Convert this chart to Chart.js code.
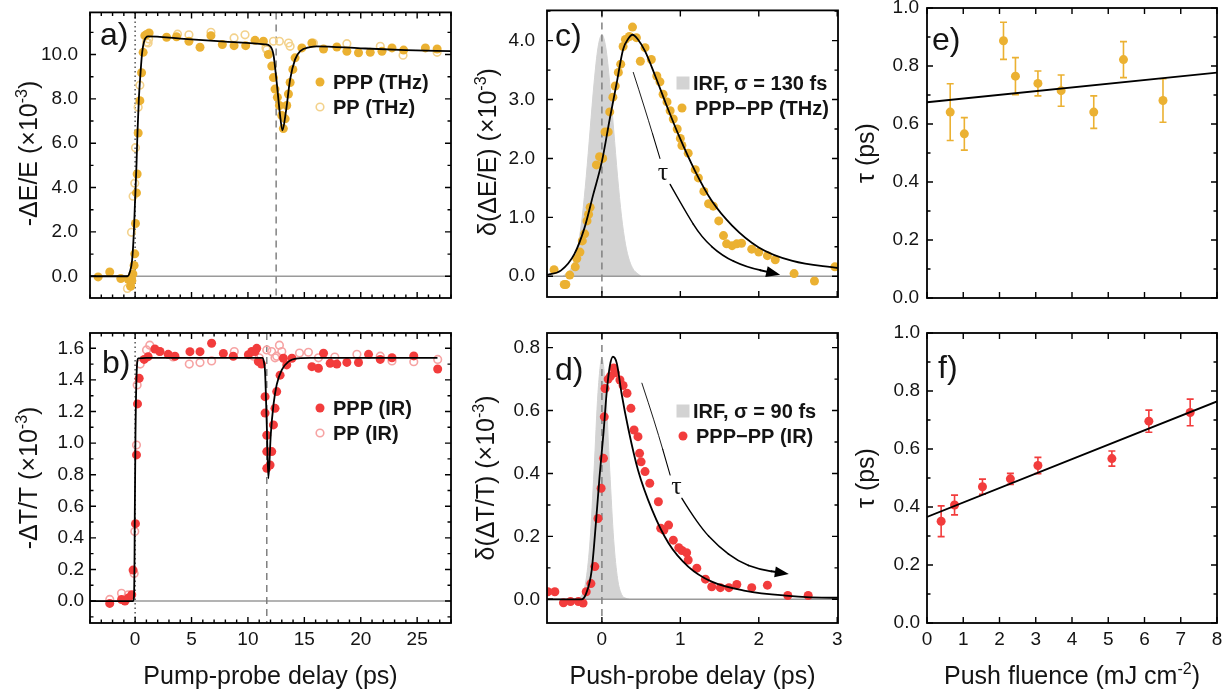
<!DOCTYPE html>
<html>
<head>
<meta charset="utf-8">
<script src="https://cdn.jsdelivr.net/npm/chart.js@4.4.0/dist/chart.umd.min.js"></script>
<style>
  body { margin: 0; background: #fff; width: 1228px; height: 696px; overflow: hidden; position: relative; }
  canvas { position: absolute; }
</style>
</head>
<body>
<canvas id="cA"></canvas>
<canvas id="cB"></canvas>
<canvas id="cC"></canvas>
<canvas id="cD"></canvas>
<canvas id="cE"></canvas>
<canvas id="cF"></canvas>
<script>
// ---- Data ----

// a) THz, pump-probe delay (ps) vs -dE/E (x1e-3)
const aFit = [[-4,0],[-0.68,0],[-0.47,0.19],[-0.27,0.71],[-0.12,1.9],[-0.03,3.09],[0.12,5.02],[0.21,6.51],
  [0.33,8.0],[0.48,9.18],[0.62,10.08],[0.8,10.6],[1.15,10.82],[4,10.72],[8,10.58],[11.5,10.46],[11.96,10.38],
  [12.26,10.0],[12.55,8.74],[12.85,7.25],[13.06,6.58],[13.36,7.4],[13.74,8.88],[14.18,9.78],[14.63,10.15],
  [15.5,10.33],[16.1,10.37],[20,10.28],[24,10.2],[28,10.15]];
const aPpp = [[-3.28,-0.03],[-2.25,0.19],[-1.27,-0.1],[-0.6,-0.15],[-0.4,-0.45],[-0.3,-0.2],[-0.2,0.1],
  [-0.09,0.49],[-0.03,1.01],[0.03,2.38],[0.12,3.76],[0.18,4.61],[0.27,6.46],[0.42,7.92],[0.57,9.18],[0.71,10.1],
  [0.86,10.85],[1.0,10.9],[1.24,10.97],[2.79,10.78],[3.67,10.8],[4.77,10.6],[5.75,10.33],[6.72,10.85],[7.73,10.45],
  [8.77,10.4],[9.8,10.4],[10.63,10.64],[11.37,10.6],[11.81,10.0],[12.11,9.48],[12.26,8.96],[12.4,8.44],[12.61,8.07],
  [12.79,7.7],[13.0,7.25],[13.14,6.66],[13.3,7.1],[13.44,7.7],[13.59,8.22],[13.74,8.74],[13.98,9.33],[14.18,9.85],
  [14.78,10.3],[15.67,10.52],[16.7,10.25],[17.88,10.34],[18.77,10.15],[19.8,10.08],[20.84,10.1],[21.88,10.15],
  [22.77,10.3],[23.8,10.2],[25.73,10.3],[26.77,10.25]];
const aPp = [[-0.68,-0.55],[-0.3,-0.2],[-0.32,1.98],[-0.18,3.61],[-0.03,4.2],[0.03,5.8],[0.27,7.62],[0.42,8.62],
  [1.01,10.55],[1.15,10.52],[1.2,10.7],[3.76,10.92],[4.77,10.89],[6.72,11.0],[8.77,10.75],[9.74,10.89],[11.6,10.3],
  [11.67,10.22],[12.26,10.6],[12.79,10.6],[13.6,10.52],[13.74,10.37],[15.8,10.52],[18.77,10.49],[21.73,10.37],
  [23.75,9.97],[26.77,10.1]];
const aPushDelay = 12.5;

// b) IR, pump-probe delay (ps) vs -dT/T (x1e-3)
const bFit = [[-4,0],[-0.18,0],[-0.1,0.03],[-0.05,0.3],[-0.03,0.545],[0.03,1.05],[0.12,1.41],[0.27,1.537],
  [1,1.54],[11.3,1.54],[11.45,1.5],[11.52,1.45],[11.67,1.115],[11.81,0.777],[12.02,1.05],[12.26,1.24],[12.55,1.37],
  [13.0,1.463],[13.59,1.516],[14.48,1.537],[15.5,1.54],[26.8,1.54]];
const bPpp = [[-2.25,-0.015],[-1.2,0.01],[-0.9,0.0],[-0.6,0.02],[-0.3,0.04],[-0.18,0.196],[0.03,0.49],[0.12,0.925],
  [0.21,1.248],[0.36,1.41],[0.8,1.53],[1.15,1.547],[1.75,1.596],[2.19,1.58],[2.93,1.562],[3.53,1.55],[4.86,1.579],
  [5.75,1.579],[6.78,1.632],[7.82,1.568],[8.7,1.55],[10.04,1.56],[10.34,1.58],[10.63,1.58],[10.78,1.6],[10.92,1.516],
  [11.2,1.5],[11.52,1.294],[11.52,1.19],[11.67,1.05],[11.67,0.946],[11.67,0.84],[11.96,0.861],[12.11,0.946],
  [12.26,1.115],[12.4,1.22],[12.55,1.326],[12.85,1.43],[13.14,1.537],[13.44,1.495],[13.9,1.537],[15.67,1.484],
  [16.25,1.474],[16.7,1.569],[17.29,1.505],[17.88,1.5],[18.77,1.511],[19.8,1.51],[20.69,1.562],[21.73,1.53],
  [22.77,1.54],[24.7,1.552],[26.82,1.469]];
const bPp = [[-2.25,0.01],[-1.21,0.049],[-0.6,0.04],[-0.09,0.175],[-0.03,0.44],[0.12,0.988],[0.18,1.368],[0.45,1.5],
  [1.01,1.59],[1.3,1.62],[2.2,1.58],[3.37,1.545],[4.8,1.5],[5.75,1.51],[6.78,1.52],[8.79,1.58],[10.5,1.55],[11.0,1.54],
  [11.67,1.59],[12.1,1.58],[12.4,1.54],[12.55,1.55],[12.79,1.62],[13.0,1.58],[14.57,1.57],[15.36,1.575],[16.25,1.54],
  [17.7,1.545],[19.66,1.562],[21.73,1.55],[22.77,1.52],[24.7,1.515],[26.82,1.53]];
const bPushDelay = 11.67;

// c) THz, push-probe delay (ps) vs d(dE/E) (x1e-3)
const cIrf = [[-0.5,0],[-0.45,0.05],[-0.4,0.12],[-0.35,0.27],[-0.3,0.55],[-0.25,1.02],[-0.2,1.69],[-0.15,2.49],
  [-0.1,3.28],[-0.05,3.88],[0,4.1],[0.05,3.88],[0.1,3.28],[0.15,2.49],[0.2,1.69],[0.25,1.02],[0.3,0.55],[0.35,0.27],
  [0.4,0.12],[0.45,0.05],[0.5,0]];
const cFit = [[-0.7,0.02],[-0.52,0.1],[-0.35,0.38],[-0.22,0.83],[-0.11,1.39],[0,1.95],[0.1,2.67],[0.19,3.29],
  [0.27,3.85],[0.34,4.04],[0.39,4.1],[0.46,4.02],[0.55,3.82],[0.68,3.4],[0.81,2.95],[0.98,2.39],[1.19,1.78],
  [1.4,1.28],[1.66,0.86],[2.0,0.49],[2.43,0.26],[3.01,0.14]];
const cDiff = [[-0.61,0.11],[-0.48,-0.14],[-0.46,-0.14],[-0.41,0.02],[-0.34,0.16],[-0.32,0.3],[-0.28,0.41],
  [-0.25,0.6],[-0.22,0.72],[-0.19,0.94],[-0.17,1.05],[-0.15,1.17],[-0.07,1.89],[-0.03,2.03],[0.01,2.0],[0.04,2.45],
  [0.08,2.45],[0.1,2.79],[0.14,3.04],[0.17,3.23],[0.21,3.46],[0.24,3.6],[0.27,3.9],[0.3,4.02],[0.35,4.07],[0.39,4.23],
  [0.44,4.05],[0.49,3.65],[0.55,3.88],[0.63,3.68],[0.7,3.4],[0.74,3.3],[0.78,3.09],[0.83,2.96],[0.87,2.81],
  [0.91,2.67],[0.96,2.5],[1.0,2.34],[1.02,2.22],[1.1,2.09],[1.19,1.81],[1.23,1.67],[1.3,1.44],[1.36,1.23],
  [1.42,1.19],[1.49,0.94],[1.55,0.69],[1.59,0.55],[1.66,0.52],[1.72,0.55],[1.78,0.56],[1.91,0.46],[2.0,0.41],
  [2.11,0.35],[2.21,0.28],[2.45,0.045],[2.71,-0.08],[2.97,0.16]];
const cArrowA = [[0.4,3.46],[0.55,2.84],[0.74,2.0]];
const cArrowB = [[0.87,1.56],[1.06,1.11],[1.27,0.66],[1.53,0.35],[1.83,0.16],[2.21,0.045]];

// d) IR, push-probe delay (ps) vs d(dT/T) (x1e-3)
const dIrf = [[-0.35,0],[-0.3,0.004],[-0.25,0.016],[-0.2,0.065],[-0.15,0.19],[-0.1,0.41],[-0.05,0.657],[0,0.766],
  [0.05,0.657],[0.1,0.41],[0.15,0.19],[0.2,0.065],[0.25,0.016],[0.3,0.004],[0.35,0]];
const dFit = [[-0.7,0],[-0.26,0],[-0.2,0.019],[-0.13,0.093],[-0.07,0.263],[-0.03,0.39],[0.02,0.528],[0.06,0.655],
  [0.1,0.74],[0.14,0.771],[0.19,0.75],[0.25,0.655],[0.34,0.538],[0.46,0.411],[0.64,0.284],[0.85,0.178],[1.1,0.104],
  [1.4,0.056],[1.83,0.027],[2.34,0.012],[2.94,0.005],[3.01,0.005]];
const dDiff = [[-0.69,0.024],[-0.6,0.024],[-0.49,-0.011],[-0.4,-0.007],[-0.3,-0.007],[-0.24,-0.012],[-0.2,0.024],
  [-0.14,0.05],[-0.09,0.104],[-0.05,0.257],[-0.01,0.353],[0.02,0.448],[0.03,0.58],[0.04,0.67],[0.08,0.7],[0.11,0.71],
  [0.15,0.735],[0.17,0.72],[0.23,0.697],[0.27,0.68],[0.32,0.655],[0.37,0.607],[0.41,0.538],[0.46,0.517],[0.48,0.464],
  [0.5,0.437],[0.55,0.406],[0.61,0.369],[0.72,0.31],[0.75,0.226],[0.79,0.22],[0.85,0.236],[0.91,0.188],[0.98,0.164],
  [1.02,0.155],[1.08,0.148],[1.1,0.125],[1.21,0.099],[1.32,0.064],[1.4,0.04],[1.51,0.037],[1.62,0.037],[1.72,0.047],
  [1.91,0.037],[2.11,0.045],[2.37,0.012],[2.63,0.012]];
const dArrowA = [[0.51,0.687],[0.68,0.559],[0.87,0.395]];
const dArrowB = [[1.02,0.321],[1.23,0.236],[1.49,0.167],[1.74,0.12],[2.0,0.095],[2.32,0.083]];

// e) THz lifetime vs push fluence
const eFluence = [0.64, 1.03, 2.11, 2.44, 3.06, 3.70, 4.60, 5.42, 6.51];
const eTau = [0.641, 0.566, 0.887, 0.765, 0.740, 0.715, 0.641, 0.822, 0.681];
const eErr = [0.098, 0.056, 0.064, 0.064, 0.043, 0.054, 0.056, 0.062, 0.075];
const eFit = [[0, 0.675], [8, 0.777]];

// f) IR lifetime vs push fluence
const fFluence = [0.39, 0.76, 1.53, 2.30, 3.06, 5.10, 6.12, 7.26];
const fTau = [0.351, 0.407, 0.470, 0.497, 0.543, 0.567, 0.696, 0.726];
const fErr = [0.053, 0.034, 0.026, 0.019, 0.028, 0.026, 0.038, 0.046];
const fFit = [[0, 0.366], [8, 0.764]];

// ---- Styling ----
const FONT = "'Liberation Sans', Arial, sans-serif";
const SERIF = "'Liberation Serif', 'Times New Roman', serif";
const TEXT = "#141414";
const GOLD = "#EBB132";
const GOLD_LIGHT = "#F3D28C";
const RED = "#F23C3C";
const RED_LIGHT = "#F6A3A3";
const IRF_GRAY = "#d3d3d3";
const TITLE_SIZE = 25;
const ML = 90, MT = 20, MR = 20, MB = 75; // canvas margins around plot area

// dataset helpers
const toPts = (arr) => arr.map(([x, y]) => ({ x, y }));
const zip = (xs, ys) => xs.map((x, i) => [x, ys[i]]);

function fitLine(data) {
  return { data: toPts(data), showLine: true, borderColor: "#000", borderWidth: 1.8,
    pointRadius: 0, cubicInterpolationMode: "monotone", fill: false };
}
function filledDots(data, color) {
  return { data: toPts(data), showLine: false, pointRadius: 4.5,
    pointBackgroundColor: color, pointBorderColor: color, pointBorderWidth: 0 };
}
function openDots(data, color) {
  return { data: toPts(data), showLine: false, pointRadius: 3.8,
    pointBackgroundColor: "rgba(0,0,0,0)", pointBorderColor: color, pointBorderWidth: 1.6 };
}
function irfArea(data) {
  return { data: toPts(data), showLine: true, borderColor: IRF_GRAY, borderWidth: 1,
    backgroundColor: IRF_GRAY, pointRadius: 0, fill: "origin", cubicInterpolationMode: "monotone" };
}

const supM3 = (head) => [{ t: head + " (×10" }, { t: "-3", sup: true }, { t: ")" }];

// ---- Panel definitions ----
const panels = [
  {
    id: "cA", box: { l: 90, t: 9, r: 451, b: 298 },
    x: { min: -4, max: 28, major: 5, minor: 1, labels: false },
    y: { min: -0.98, max: 11.9, major: 2, minor: 1, pad: 12 },
    datasets: [fitLine(aFit), filledDots(aPpp, GOLD), openDots(aPp, GOLD_LIGHT)],
    zeroLine: true, linesAfter: -1,
    vlines: [{ x: 0, style: "dot" }, { x: aPushDelay, style: "dash" }],
    tag: { text: "a)", x: 100, y: 45 },
    yTitle: { parts: supM3("-ΔE/E"), x: 28 },
    legend: [
      { kind: "dot", color: GOLD, text: "PPP (THz)", x: 320, y: 82 },
      { kind: "open", color: GOLD_LIGHT, text: "PP (THz)", x: 320, y: 107 },
    ],
  },
  {
    id: "cB", box: { l: 90, t: 333, r: 451, b: 623 },
    x: { min: -4, max: 28, major: 5, minor: 1, labels: true },
    y: { min: -0.139, max: 1.697, major: 0.2, minor: 0.1, pad: 6 },
    datasets: [fitLine(bFit), filledDots(bPpp, RED), openDots(bPp, RED_LIGHT)],
    zeroLine: true, linesAfter: -1,
    vlines: [{ x: 0, style: "dot" }, { x: bPushDelay, style: "dash" }],
    tag: { text: "b)", x: 102, y: 373 },
    yTitle: { parts: supM3("-ΔT/T"), x: 28 },
    xTitle: [{ t: "Pump-probe delay (ps)" }],
    legend: [
      { kind: "dot", color: RED, text: "PPP (IR)", x: 320, y: 408 },
      { kind: "open", color: RED_LIGHT, text: "PP (IR)", x: 320, y: 433 },
    ],
  },
  {
    id: "cC", box: { l: 547, t: 7, r: 838, b: 297 },
    x: { min: -0.7, max: 3.01, major: 1, labels: false },
    y: { min: -0.352, max: 4.513, major: 1, minor: 0.5, pad: 12 },
    datasets: [fitLine(cFit), filledDots(cDiff, GOLD), irfArea(cIrf)],
    zeroLine: true, linesAfter: 2,
    vlines: [{ x: 0, style: "dash" }],
    arrow: [cArrowA, cArrowB], tau: { x: 0.78, y: 1.75 },
    tag: { text: "c)", x: 555, y: 46 },
    yTitle: { parts: supM3("δ(ΔE/E)"), x: 487 },
    legend: [
      { kind: "square", color: IRF_GRAY, text: "IRF, σ = 130 fs", x: 683, y: 83 },
      { kind: "dot", color: GOLD, text: "PPP−PP (THz)", x: 682, y: 108 },
    ],
  },
  {
    id: "cD", box: { l: 547, t: 333, r: 838, b: 623 },
    x: { min: -0.7, max: 3.01, major: 1, labels: true },
    y: { min: -0.0753, max: 0.8465, major: 0.2, minor: 0.1, pad: 7 },
    datasets: [fitLine(dFit), filledDots(dDiff, RED), irfArea(dIrf)],
    zeroLine: true, linesAfter: 2,
    vlines: [{ x: 0, style: "dash" }],
    arrow: [dArrowA, dArrowB], tau: { x: 0.95, y: 0.358 },
    tag: { text: "d)", x: 555, y: 380 },
    yTitle: { parts: supM3("δ(ΔT/T)"), x: 485 },
    xTitle: [{ t: "Push-probe delay (ps)" }],
    legend: [
      { kind: "square", color: IRF_GRAY, text: "IRF, σ = 90 fs", x: 683, y: 411 },
      { kind: "dot", color: RED, text: "PPP−PP (IR)", x: 683, y: 436 },
    ],
  },
  {
    id: "cE", box: { l: 927, t: 8, r: 1217, b: 298 },
    x: { min: 0, max: 8, major: 1, labels: false },
    y: { min: 0, max: 1, major: 0.2, minor: 0.1, pad: 8 },
    datasets: [fitLine(eFit), filledDots(zip(eFluence, eTau), GOLD)],
    errors: { xs: eFluence, ys: eTau, err: eErr, color: GOLD },
    zeroLine: false, linesAfter: -1, vlines: [],
    tag: { text: "e)", x: 932, y: 50 },
    yTitle: { parts: [{ t: "τ (ps)" }], x: 865 },
    legend: [],
  },
  {
    id: "cF", box: { l: 927, t: 333, r: 1217, b: 623 },
    x: { min: 0, max: 8, major: 1, labels: true },
    y: { min: 0, max: 1, major: 0.2, minor: 0.1, pad: 7 },
    datasets: [fitLine(fFit), filledDots(zip(fFluence, fTau), RED)],
    errors: { xs: fFluence, ys: fTau, err: fErr, color: RED },
    zeroLine: false, linesAfter: -1, vlines: [],
    tag: { text: "f)", x: 938, y: 378 },
    yTitle: { parts: [{ t: "τ (ps)" }], x: 865 },
    xTitle: [{ t: "Push fluence (mJ cm" }, { t: "-2", sup: true }, { t: ")" }],
    legend: [],
  },
];

const specById = {};
panels.forEach((p) => (specById[p.id] = p));

// ---- Drawing helpers ----
function eachTick(ax, fn) {
  const step = ax.minor || ax.major;
  const k0 = Math.ceil(ax.min / step - 1e-6);
  const k1 = Math.floor(ax.max / step + 1e-6);
  for (let k = k0; k <= k1; k++) {
    const v = k * step;
    const r = v / ax.major;
    fn(v, Math.abs(r - Math.round(r)) < 1e-6);
  }
}

// text with optional superscript parts, centred at (x, y)
function drawRich(ctx, parts, x, y, size, rotate) {
  ctx.save();
  ctx.translate(x, y);
  if (rotate) ctx.rotate(-Math.PI / 2);
  ctx.textAlign = "left";
  ctx.textBaseline = "alphabetic";
  ctx.fillStyle = TEXT;
  const fontFor = (p) => (p.sup ? Math.round(size * 0.62) : size) + "px " + FONT;
  let total = 0;
  parts.forEach((p) => { ctx.font = fontFor(p); total += ctx.measureText(p.t).width; });
  let cx = -total / 2;
  const base = size * 0.36;
  parts.forEach((p) => {
    ctx.font = fontFor(p);
    ctx.fillText(p.t, cx, base - (p.sup ? size * 0.42 : 0));
    cx += ctx.measureText(p.t).width;
  });
  ctx.restore();
}

function drawRefLines(chart, spec) {
  const ctx = chart.ctx, xs = chart.scales.x, ys = chart.scales.y, a = chart.chartArea;
  ctx.save();
  ctx.beginPath();
  ctx.rect(a.left, a.top, a.right - a.left, a.bottom - a.top);
  ctx.clip();
  if (spec.zeroLine) {
    const y0 = ys.getPixelForValue(0);
    ctx.strokeStyle = "#9a9a9a";
    ctx.lineWidth = 1.5;
    ctx.setLineDash([]);
    ctx.beginPath();
    ctx.moveTo(a.left, y0);
    ctx.lineTo(a.right, y0);
    ctx.stroke();
  }
  spec.vlines.forEach((v) => {
    const px = xs.getPixelForValue(v.x);
    if (v.style === "dot") {
      ctx.strokeStyle = "#555";
      ctx.setLineDash([1.5, 3]);
    } else {
      ctx.strokeStyle = "#808080";
      ctx.setLineDash([7, 5]);
    }
    ctx.lineWidth = 1.5;
    ctx.beginPath();
    ctx.moveTo(px, a.top);
    ctx.lineTo(px, a.bottom);
    ctx.stroke();
  });
  ctx.setLineDash([]);
  ctx.restore();
}

function drawErrors(chart, spec) {
  const e = spec.errors;
  if (!e) return;
  const ctx = chart.ctx, xs = chart.scales.x, ys = chart.scales.y;
  ctx.save();
  ctx.strokeStyle = e.color;
  ctx.lineWidth = 1.6;
  ctx.beginPath();
  e.xs.forEach((x, i) => {
    const px = xs.getPixelForValue(x);
    const top = ys.getPixelForValue(e.ys[i] + e.err[i]);
    const bot = ys.getPixelForValue(e.ys[i] - e.err[i]);
    ctx.moveTo(px, top); ctx.lineTo(px, bot);
    ctx.moveTo(px - 3.5, top); ctx.lineTo(px + 3.5, top);
    ctx.moveTo(px - 3.5, bot); ctx.lineTo(px + 3.5, bot);
  });
  ctx.stroke();
  ctx.restore();
}

// curved tapered arrow, drawn through the scales
function drawArrow(chart, spec) {
  if (!spec.arrow) return;
  const ctx = chart.ctx, xs = chart.scales.x, ys = chart.scales.y;
  const segs = spec.arrow.map((s) => s.map(([x, y]) => [xs.getPixelForValue(x), ys.getPixelForValue(y)]));
  let n = 0;
  segs.forEach((s) => (n += s.length));
  let i = 0;
  ctx.save();
  ctx.strokeStyle = "#000";
  ctx.fillStyle = "#000";
  ctx.lineCap = "round";
  segs.forEach((s) => {
    const mid = (p, q) => [(p[0] + q[0]) / 2, (p[1] + q[1]) / 2];
    let start = s[0];
    for (let k = 1; k < s.length; k++) {
      const end = k < s.length - 1 ? mid(s[k], s[k + 1]) : s[k];
      ctx.lineWidth = 0.9 + 1.4 * (i / n);
      ctx.beginPath();
      ctx.moveTo(start[0], start[1]);
      if (k < s.length - 1) ctx.quadraticCurveTo(s[k][0], s[k][1], end[0], end[1]);
      else ctx.lineTo(end[0], end[1]);
      ctx.stroke();
      start = end;
      i++;
    }
    i++;
  });
  const last = segs[segs.length - 1];
  const p1 = last[last.length - 1], p0 = last[last.length - 2];
  const ang = Math.atan2(p1[1] - p0[1], p1[0] - p0[0]);
  const tip = [p1[0] + 5 * Math.cos(ang), p1[1] + 5 * Math.sin(ang)];
  ctx.beginPath();
  ctx.moveTo(tip[0], tip[1]);
  ctx.lineTo(tip[0] - 14 * Math.cos(ang) + 5.5 * Math.sin(ang), tip[1] - 14 * Math.sin(ang) - 5.5 * Math.cos(ang));
  ctx.lineTo(tip[0] - 14 * Math.cos(ang) - 5.5 * Math.sin(ang), tip[1] - 14 * Math.sin(ang) + 5.5 * Math.cos(ang));
  ctx.closePath();
  ctx.fill();
  // tau label in the gap
  ctx.font = "26px " + SERIF;
  ctx.textAlign = "center";
  ctx.textBaseline = "middle";
  ctx.fillStyle = TEXT;
  ctx.fillText("τ", xs.getPixelForValue(spec.tau.x), ys.getPixelForValue(spec.tau.y));
  ctx.restore();
}

function drawFrame(chart, spec) {
  const ctx = chart.ctx, xs = chart.scales.x, ys = chart.scales.y, a = chart.chartArea;
  ctx.save();
  ctx.strokeStyle = "#000";
  ctx.lineWidth = 1.4;
  ctx.beginPath();
  eachTick(spec.x, (v, major) => {
    const px = xs.getPixelForValue(v);
    const len = major ? 6 : 3.5;
    ctx.moveTo(px, a.bottom); ctx.lineTo(px, a.bottom - len);
    ctx.moveTo(px, a.top); ctx.lineTo(px, a.top + len);
  });
  eachTick(spec.y, (v, major) => {
    const py = ys.getPixelForValue(v);
    const len = major ? 6 : 3.5;
    ctx.moveTo(a.left, py); ctx.lineTo(a.left + len, py);
    ctx.moveTo(a.right, py); ctx.lineTo(a.right - len, py);
  });
  ctx.stroke();
  ctx.lineWidth = 1.8;
  ctx.strokeRect(a.left, a.top, a.right - a.left, a.bottom - a.top);
  ctx.restore();
}

// texts placed in page coordinates
function drawTexts(chart, spec) {
  const ctx = chart.ctx;
  const ox = spec.box.l - ML, oy = spec.box.t - MT;
  ctx.save();
  ctx.translate(-ox, -oy);
  // panel tag
  ctx.font = "32px " + FONT;
  ctx.fillStyle = TEXT;
  ctx.textAlign = "left";
  ctx.textBaseline = "alphabetic";
  ctx.fillText(spec.tag.text, spec.tag.x, spec.tag.y);
  // axis titles
  const cy = (spec.box.t + spec.box.b) / 2;
  drawRich(ctx, spec.yTitle.parts, spec.yTitle.x, cy, TITLE_SIZE, true);
  if (spec.xTitle) drawRich(ctx, spec.xTitle, (spec.box.l + spec.box.r) / 2, 675, TITLE_SIZE, false);
  // legend
  spec.legend.forEach((it) => {
    let tx = it.x + 13;
    if (it.kind === "dot") {
      ctx.fillStyle = it.color;
      ctx.beginPath(); ctx.arc(it.x, it.y, 4.5, 0, Math.PI * 2); ctx.fill();
    } else if (it.kind === "open") {
      ctx.strokeStyle = it.color; ctx.lineWidth = 1.6;
      ctx.beginPath(); ctx.arc(it.x, it.y, 3.8, 0, Math.PI * 2); ctx.stroke();
    } else {
      ctx.fillStyle = it.color;
      ctx.fillRect(it.x - 6.5, it.y - 6.5, 13, 13);
      tx = it.x + 10;
    }
    ctx.font = "bold 20px " + FONT;
    ctx.fillStyle = TEXT;
    ctx.textBaseline = "middle";
    ctx.fillText(it.text, tx, it.y + 1);
  });
  ctx.restore();
}

const decorPlugin = {
  id: "decor",
  beforeDatasetsDraw(chart) {
    const spec = specById[chart.canvas.id];
    drawErrors(chart, spec);
    if (spec.linesAfter < 0) drawRefLines(chart, spec);
  },
  afterDatasetDraw(chart, args) {
    const spec = specById[chart.canvas.id];
    if (args.index === spec.linesAfter) drawRefLines(chart, spec);
  },
  afterDatasetsDraw(chart) {
    const spec = specById[chart.canvas.id];
    drawArrow(chart, spec);
    drawFrame(chart, spec);
  },
  afterDraw(chart) {
    drawTexts(chart, specById[chart.canvas.id]);
  },
};

// ---- Build charts ----
function makePanel(spec) {
  const canvas = document.getElementById(spec.id);
  const w = spec.box.r - spec.box.l + ML + MR;
  const h = spec.box.b - spec.box.t + MT + MB;
  canvas.width = w;
  canvas.height = h;
  canvas.style.left = spec.box.l - ML + "px";
  canvas.style.top = spec.box.t - MT + "px";
  canvas.style.width = w + "px";
  canvas.style.height = h + "px";

  return new Chart(canvas.getContext("2d"), {
    type: "scatter",
    data: { datasets: spec.datasets },
    options: {
      responsive: false,
      animation: false,
      devicePixelRatio: 1,
      events: [],
      layout: { padding: { left: 0, top: MT, right: MR, bottom: 0 } },
      plugins: { legend: { display: false }, tooltip: { enabled: false } },
      scales: {
        x: {
          type: "linear",
          min: spec.x.min,
          max: spec.x.max,
          grid: { display: false, drawTicks: false },
          border: { display: false },
          ticks: {
            display: spec.x.labels,
            stepSize: spec.x.major,
            includeBounds: false,
            autoSkip: false,
            maxRotation: 0,
            padding: 5,
            color: TEXT,
            font: { family: FONT, size: 19 },
            callback: (v) => String(v),
          },
          afterFit: (s) => { s.height = MB; },
        },
        y: {
          type: "linear",
          min: spec.y.min,
          max: spec.y.max,
          grid: { display: false, drawTicks: false },
          border: { display: false },
          ticks: {
            stepSize: spec.y.major,
            includeBounds: false,
            autoSkip: false,
            padding: spec.y.pad,
            color: TEXT,
            font: { family: FONT, size: 19 },
            callback: (v) => Number(v).toFixed(1),
          },
          afterFit: (s) => { s.width = ML; },
        },
      },
    },
    plugins: [decorPlugin],
  });
}

panels.forEach(makePanel);
</script>
</body>
</html>
